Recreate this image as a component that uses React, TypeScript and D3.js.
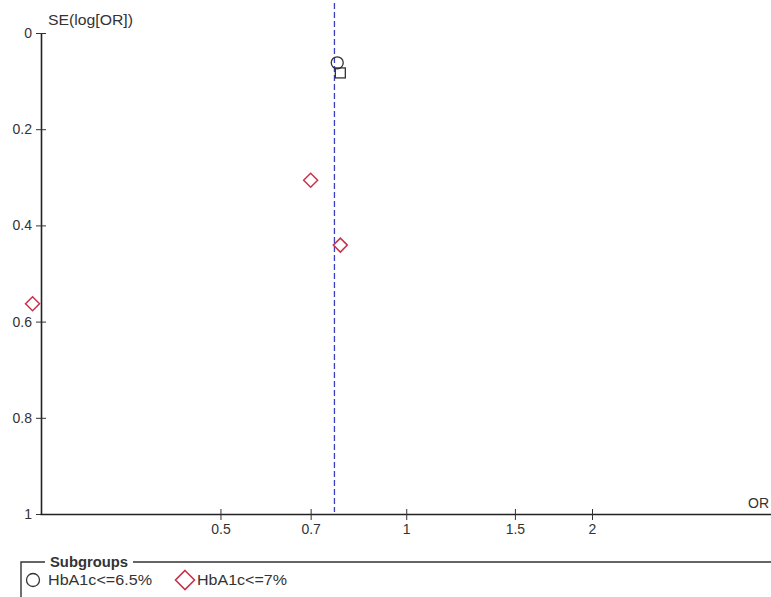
import { useEffect, useRef } from "react";
import { axisBottom, axisLeft, scaleLinear, scaleLog, select } from "d3";

// subgroup names
const groups = ["HbA1c<=6.5%", "HbA1c<=7%"];

// HbA1c<=6.5% (circles)
const circleOR = [0.773];
const circleSE = [0.062];
// extra marker (square)
const squareOR = [0.782];
const squareSE = [0.083];
// HbA1c<=7% (diamonds)
const diamondOR = [0.70, 0.782, 0.248];
const diamondSE = [0.306, 0.441, 0.563];

const pooledOR = 0.765;
const xTicks = [0.5, 0.7, 1, 1.5, 2];
const yTicks = [0, 0.2, 0.4, 0.6, 0.8, 1];

const W = 771;
const H = 597;
const font = "'Liberation Sans', Arial, sans-serif";
const txt = "#333";

const diamondPath = (r) => `M0,${-r}L${r},0L0,${r}L${-r},0Z`;

function AxisLeft({ scale, x }) {
  const ref = useRef(null);
  useEffect(() => {
    if (!ref.current) return;
    const g = select(ref.current);
    g.call(axisLeft(scale).tickValues(yTicks).tickFormat((d) => `${d}`).tickSizeOuter(0));
    g.select(".domain").attr("stroke", "#222").attr("stroke-width", 1.6);
    g.selectAll(".tick line").attr("x1", -5).attr("x2", 5).attr("stroke", "#333");
    g.selectAll(".tick text")
      .attr("x", -9)
      .attr("font-family", font)
      .attr("font-size", 14)
      .attr("fill", txt);
  }, [scale]);
  return <g ref={ref} transform={`translate(${x},0)`} />;
}

function AxisBottom({ scale, y }) {
  const ref = useRef(null);
  useEffect(() => {
    if (!ref.current) return;
    const g = select(ref.current);
    g.call(axisBottom(scale).tickValues(xTicks).tickFormat((d) => `${d}`).tickSizeOuter(0));
    g.select(".domain").attr("stroke", "#222").attr("stroke-width", 1.6);
    g.selectAll(".tick line").attr("y1", -5).attr("y2", 6).attr("stroke", "#333");
    g.selectAll(".tick text")
      .attr("y", 10)
      .attr("font-family", font)
      .attr("font-size", 14)
      .attr("fill", txt);
  }, [scale]);
  return <g ref={ref} transform={`translate(0,${y})`} />;
}

export default function App() {
  const x = scaleLog().domain([0.255, 3.9]).range([40, W]);
  const y = scaleLinear().domain([0, 1]).range([33, 514]);

  return (
    <svg width={W} height={H} style={{ position: "absolute", left: 0, top: 0, background: "#fff" }}>
      <line
        x1={x(pooledOR)}
        x2={x(pooledOR)}
        y1={3}
        y2={512}
        stroke="#3b3fbf"
        strokeWidth={1.3}
        strokeDasharray="6,3"
      />
      <AxisLeft scale={y} x={41} />
      <AxisBottom scale={x} y={514} />
      <text x={48} y={25} fontFamily={font} fontSize={14} fill={txt} textLength={85} lengthAdjust="spacingAndGlyphs">
        SE(log[OR])
      </text>
      <text x={748} y={508} fontFamily={font} fontSize={14} fill={txt}>
        OR
      </text>

      {circleOR.map((d, i) => (
        <circle key={`c${i}`} cx={x(d)} cy={y(circleSE[i])} r={6} fill="none" stroke="#333" strokeWidth={1.3} />
      ))}
      {squareOR.map((d, i) => (
        <rect
          key={`s${i}`}
          x={x(d) - 5}
          y={y(squareSE[i]) - 5}
          width={10}
          height={10}
          fill="none"
          stroke="#333"
          strokeWidth={1.3}
        />
      ))}
      {diamondOR.map((d, i) => (
        <path
          key={`d${i}`}
          d={diamondPath(7)}
          transform={`translate(${x(d)},${y(diamondSE[i])})`}
          fill="none"
          stroke="#c8334a"
          strokeWidth={1.5}
        />
      ))}

      {/* legend */}
      <path d={`M21,${H + 2} V562 H45 M133,562 H${W}`} fill="none" stroke="#333" strokeWidth={1.4} />
      <text x={50} y={567} fontFamily={font} fontSize={14} fontWeight="bold" fill={txt} textLength={78} lengthAdjust="spacingAndGlyphs">
        Subgroups
      </text>
      <circle cx={33} cy={580} r={6.5} fill="none" stroke="#333" strokeWidth={1.3} />
      <text x={48} y={585} fontFamily={font} fontSize={14} fill={txt} textLength={104} lengthAdjust="spacingAndGlyphs">
        {groups[0]}
      </text>
      <path d={diamondPath(9.5)} transform="translate(185,580)" fill="none" stroke="#c8334a" strokeWidth={1.6} />
      <text x={197} y={585} fontFamily={font} fontSize={14} fill={txt} textLength={90} lengthAdjust="spacingAndGlyphs">
        {groups[1]}
      </text>
    </svg>
  );
}
